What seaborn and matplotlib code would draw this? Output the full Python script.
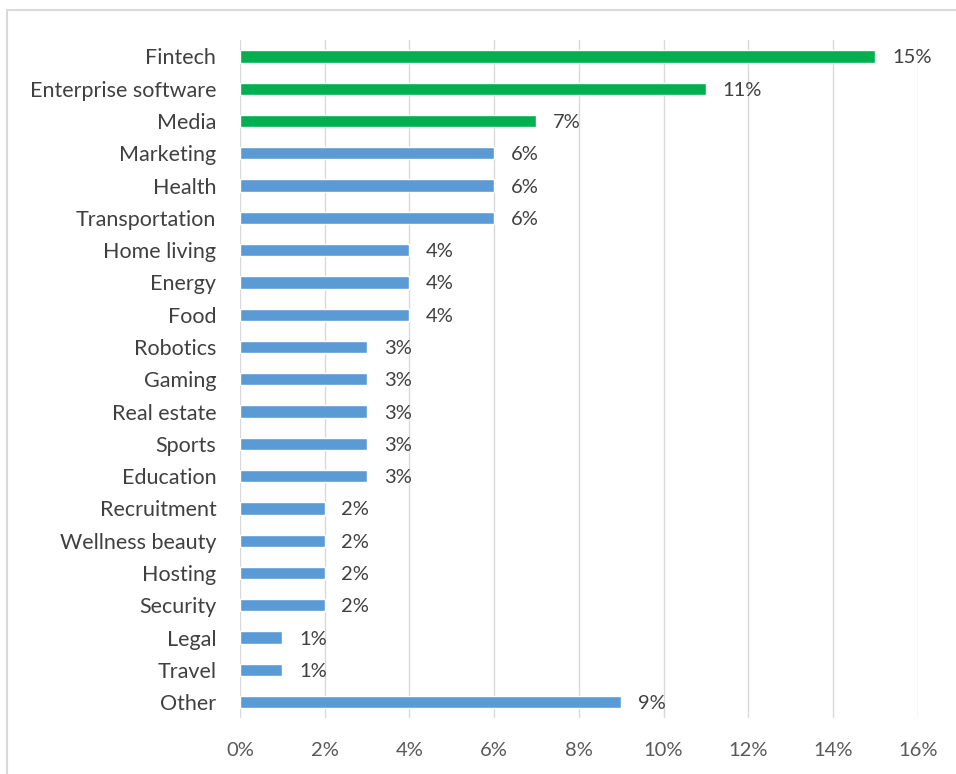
import pandas as pd
import seaborn as sns
import matplotlib.pyplot as plt
from matplotlib.patches import Rectangle
from matplotlib.ticker import FuncFormatter

sectors = ['Fintech', 'Enterprise software', 'Media', 'Marketing', 'Health',
           'Transportation', 'Home living', 'Energy', 'Food', 'Robotics',
           'Gaming', 'Real estate', 'Sports', 'Education', 'Recruitment',
           'Wellness beauty', 'Hosting', 'Security', 'Legal', 'Travel', 'Other']
shares = [15, 11, 7, 6, 6, 6, 4, 4, 4, 3, 3, 3, 3, 3, 2, 2, 2, 2, 1, 1, 9]
top_sectors = ['Fintech', 'Enterprise software', 'Media']

GREEN = '#00B050'
BLUE = '#5B9BD5'

df = pd.DataFrame({'sector': sectors, 'share': shares})
palette = {s: (GREEN if s in top_sectors else BLUE) for s in sectors}

sns.set_style('white')
plt.rcParams['font.family'] = ['Lato', 'DejaVu Sans']

fig = plt.figure(figsize=(9.56, 7.74), dpi=100)
ax = fig.add_axes([0.251, 0.072, 0.709, 0.876])

sns.barplot(data=df, x='share', y='sector', hue='sector', palette=palette,
            order=sectors, width=0.38, legend=False, ax=ax, saturation=1)

ax.set_xlim(0, 16)
ax.set_ylim(len(sectors) - 0.5, -0.5)
ax.set_xticks(range(0, 17, 2))
ax.xaxis.set_major_formatter(FuncFormatter(lambda v, _: f'{v:.0f}%'))
ax.grid(axis='x', color='#D9D9D9', linewidth=1)
ax.set_axisbelow(True)
for side in ['top', 'right', 'bottom', 'left']:
    ax.spines[side].set_visible(False)
ax.set_xlabel('')
ax.set_ylabel('')
ax.tick_params(axis='x', labelsize=14.5, labelcolor='#595959', length=0, pad=17)
ax.tick_params(axis='y', labelsize=15.5, labelcolor='#404040', length=0, pad=17)

for i, v in enumerate(shares):
    ax.annotate(f'{v}%', xy=(v, i), xytext=(12, 0), textcoords='offset points',
                va='center_baseline', ha='left', fontsize=14.5, color='#404040')

fig.patches.append(Rectangle((7 / 956, -0.05), 1.0, 0.05 + (774 - 10) / 774,
                             transform=fig.transFigure, fill=False,
                             edgecolor='#D9D9D9', linewidth=1.5))

fig.savefig('out.png', dpi=100)
